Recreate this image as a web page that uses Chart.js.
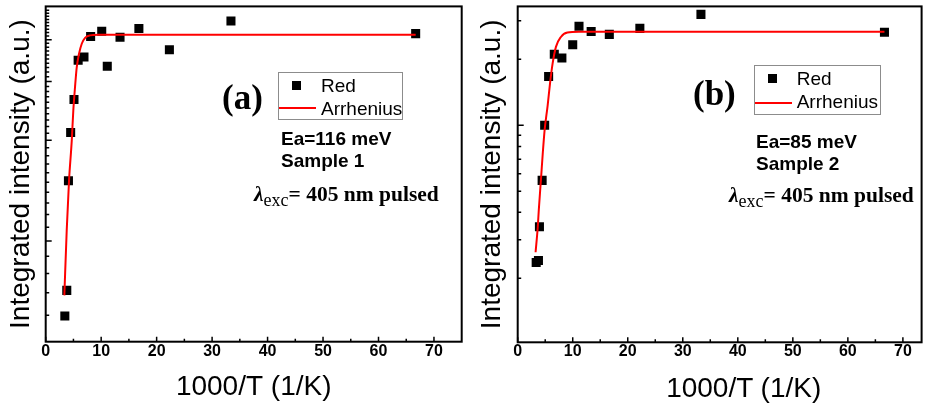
<!DOCTYPE html>
<html><head><meta charset="utf-8">
<script src="https://cdn.jsdelivr.net/npm/chart.js@4.4.1/dist/chart.umd.min.js"></script>
<style>
html,body{margin:0;padding:0;background:#fff;width:928px;height:407px;overflow:hidden;}
#wrap{position:relative;width:928px;height:407px;}
.pane{position:absolute;top:0;height:407px;}
#pa{left:0;width:470px;}
#pb{left:470px;width:458px;}
.t{position:absolute;white-space:nowrap;line-height:1;color:#000;}
.sans{font-family:"Liberation Sans",Arial,sans-serif;}
.serif{font-family:"Liberation Serif","Times New Roman",serif;}
.b{font-weight:bold;}
.leg{position:absolute;border:1px solid #8c8c8c;background:#fff;box-sizing:border-box;}
.sq{position:absolute;background:#000;width:9px;height:9px;}
.ln{position:absolute;background:#ff0000;height:2px;}
.lam i{font-style:italic;}
.lam sub{font-size:18px;font-weight:normal;vertical-align:-5px;line-height:1;}
</style>
</head><body>
<div id="wrap">
  <div class="pane" id="pa"><canvas id="ca" width="470" height="407"></canvas></div>
  <div class="pane" id="pb"><canvas id="cb" width="458" height="407"></canvas></div>

  <div class="t serif b" style="left:222px;top:80px;font-size:35px;">(a)</div>
  <div class="leg" style="left:278px;top:72px;width:125px;height:48px;"></div>
  <div class="sq" style="left:292.2px;top:80.5px;"></div>
  <div class="t sans" style="left:321px;top:75.7px;font-size:19px;">Red</div>
  <div class="ln" style="left:279px;top:106.7px;width:37px;"></div>
  <div class="t sans" style="left:321px;top:98.5px;font-size:19px;">Arrhenius</div>
  <div class="t sans b" style="left:281px;top:128.5px;font-size:19px;">Ea=116 meV</div>
  <div class="t sans b" style="left:281px;top:151px;font-size:19px;">Sample 1</div>
  <div class="t serif b lam" style="left:254px;top:183.5px;font-size:21.5px;"><i>λ</i><sub>exc</sub>= 405 nm pulsed</div>

  <div class="t serif b" style="left:693px;top:76.3px;font-size:35px;">(b)</div>
  <div class="leg" style="left:754px;top:65px;width:127px;height:50px;"></div>
  <div class="sq" style="left:768.2px;top:73.8px;"></div>
  <div class="t sans" style="left:796.7px;top:69px;font-size:19px;">Red</div>
  <div class="ln" style="left:755px;top:101.7px;width:37px;"></div>
  <div class="t sans" style="left:796.7px;top:92.4px;font-size:19px;">Arrhenius</div>
  <div class="t sans b" style="left:756px;top:131.5px;font-size:19px;">Ea=85 meV</div>
  <div class="t sans b" style="left:756px;top:153.7px;font-size:19px;">Sample 2</div>
  <div class="t serif b lam" style="left:729px;top:185px;font-size:21.5px;"><i>λ</i><sub>exc</sub>= 405 nm pulsed</div>
  <div class="t sans" style="left:743.7px;top:374.3px;font-size:28px;transform:translateX(-50%);">1000/T (1/K)</div>
</div>
<script>
// ---- data ----
const xMajorTicks = [0, 10, 20, 30, 40, 50, 60, 70];
const xMinorTicks = [5, 15, 25, 35, 45, 55, 65];

// Panel (a) - Sample 1
const aInvT = [3.45, 3.8, 4.1, 4.5, 5.1, 5.85, 6.9, 8.1, 10.1, 11.1, 13.4, 16.8, 22.3, 33.4, 66.7];
const aRed  = [5.97, 7.12, 15.15, 21.1, 26.5, 34.7, 35.5, 40.9, 42.4, 33.3, 40.7, 43.2, 37.3, 45.5, 41.7];
const aFitX = [3.36, 3.79, 4.21, 4.7, 4.98, 5.29, 5.6, 6.01, 6.5, 7.1, 8.0, 9.5, 66.7];
const aFitY = [6.88, 10.77, 15.19, 20.0, 24.6, 28.9, 33.1, 36.3, 38.9, 40.5, 41.2, 41.4, 41.4];
const aYMajor = [10, 20, 30, 40];
const aYMinor = [6, 7, 8, 9, 11, 12, 13, 14, 15, 16, 17, 18, 19, 21, 22, 23, 24, 25, 26, 27, 28, 29,
                 31, 32, 33, 34, 35, 36, 37, 38, 39, 41, 42, 43, 44, 45, 46, 47, 48, 49];

// Panel (b) - Sample 2
const bInvT = [3.36, 3.77, 3.95, 4.44, 4.9, 5.62, 6.65, 8.03, 10.0, 11.14, 13.35, 16.65, 22.2, 33.3, 66.65];
const bRed  = [2.36, 2.41, 3.44, 5.6, 10.0, 16.7, 21.1, 20.3, 23.3, 28.3, 26.8, 26.0, 27.7, 32.1, 26.6];
const bFitX = [3.25, 3.65, 3.83, 4.26, 4.55, 4.9, 5.44, 5.87, 6.34, 6.95, 7.85, 9.04, 11.1, 66.65];
const bFitY = [2.63, 3.44, 4.09, 5.81, 7.41, 9.55, 12.3, 15.5, 19.1, 22.8, 25.3, 26.5, 26.7, 26.7];
const bYMajor = [10];
const bYMinor = [2, 3, 4, 5, 6, 7, 8, 9, 20, 30];

const xTitle = '1000/T (1/K)';
const yTitle = 'Integrated intensity (a.u.)';

// ---- plugin: frame + inward ticks ----
const frameTicks = {
  id: 'frameTicks',
  afterDatasetsDraw(chart, args, o) {
    const {ctx, chartArea: a, scales: {x, y}} = chart;
    ctx.save();
    ctx.strokeStyle = '#000';
    ctx.lineWidth = 1.5;
    ctx.beginPath();
    o.xMajor.forEach(v => { const p = x.getPixelForValue(v); ctx.moveTo(p, a.bottom); ctx.lineTo(p, a.bottom - 5); });
    o.xMinor.forEach(v => { const p = x.getPixelForValue(v); ctx.moveTo(p, a.bottom); ctx.lineTo(p, a.bottom - 3); });
    o.yMajor.forEach(v => { const p = y.getPixelForValue(v); ctx.moveTo(a.left, p); ctx.lineTo(a.left + 6, p); });
    o.yMinor.forEach(v => { const p = y.getPixelForValue(v); ctx.moveTo(a.left, p); ctx.lineTo(a.left + 3.5, p); });
    ctx.stroke();
    ctx.lineWidth = 2;
    ctx.strokeRect(a.left, a.top, a.right - a.left, a.bottom - a.top);
    ctx.restore();
  }
};

function pts(xs, ys) { return xs.map((v, i) => ({x: v, y: ys[i]})); }

function makeChart(id, cfg) {
  return new Chart(document.getElementById(id), {
    type: 'scatter',
    data: {
      datasets: [
        {label: 'Arrhenius', data: pts(cfg.fitX, cfg.fitY), showLine: true, borderColor: '#ff0000',
         borderWidth: 2, pointRadius: 0, cubicInterpolationMode: 'monotone', fill: false},
        {label: 'Red', data: pts(cfg.xs, cfg.ys), pointStyle: 'rect', pointRadius: 6.4,
         backgroundColor: '#000', borderWidth: 0, pointBorderWidth: 0}
      ]
    },
    options: {
      responsive: false, animation: false, devicePixelRatio: 1,
      layout: {padding: {left: 0, top: 6, right: cfg.padRight, bottom: 0}},
      plugins: {
        legend: {display: false}, tooltip: {enabled: false},
        frameTicks: {xMajor: xMajorTicks, xMinor: xMinorTicks, yMajor: cfg.yMajor, yMinor: cfg.yMinor}
      },
      scales: {
        x: {
          type: 'linear', min: 0, max: cfg.xMax,
          grid: {display: false, drawTicks: false}, border: {display: false},
          ticks: {stepSize: 10, includeBounds: false, padding: 0, color: '#000', maxRotation: 0,
                  font: {family: 'Liberation Sans', size: 16, weight: 'bold'}},
          title: {display: cfg.showXTitle, text: xTitle, color: '#000',
                  font: {family: 'Liberation Sans', size: 28}, padding: {top: 0, bottom: 3}},
          afterFit: s => { s.height = cfg.xH; }
        },
        y: {
          type: 'logarithmic', min: cfg.yMin, max: cfg.yMax,
          grid: {display: false, drawTicks: false}, border: {display: false},
          ticks: {display: false},
          title: {display: true, text: yTitle, color: '#000',
                  font: {family: 'Liberation Sans', size: 28}, padding: {top: cfg.yTitlePad, bottom: 0}},
          afterFit: s => { s.width = cfg.yW; }
        }
      }
    },
    plugins: [frameTicks]
  });
}

makeChart('ca', {xs: aInvT, ys: aRed, fitX: aFitX, fitY: aFitY, yMajor: aYMajor, yMinor: aYMinor,
  xMax: 75, yMin: 5, yMax: 50.3, padRight: 8.3, xH: 65.3, yW: 45.7, yTitlePad: 4, showXTitle: true});
makeChart('cb', {xs: bInvT, ys: bRed, fitX: bFitX, fitY: bFitY, yMajor: bYMajor, yMinor: bYMinor,
  xMax: 73.4, yMin: 1.02, yMax: 34.9, padRight: 1.3, xH: 64.7, yW: 47.7, yTitlePad: 5.7, showXTitle: false});
</script>
</body></html>
